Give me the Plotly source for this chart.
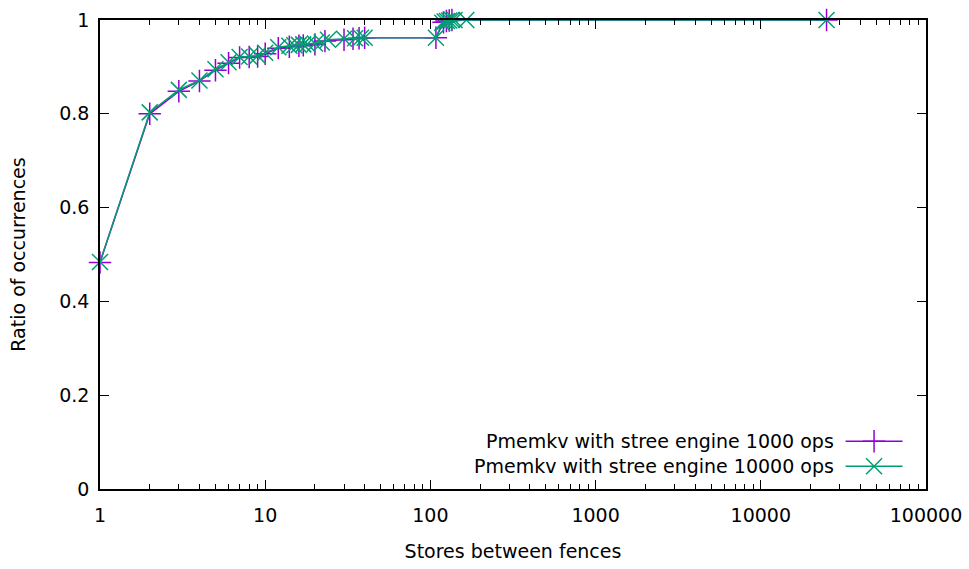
import plotly.graph_objects as go

# Series 1: Pmemkv with stree engine 1000 ops
x_1000 = [1, 2, 3, 4, 5, 6, 7, 8, 9, 10, 12, 14, 16, 17, 20, 23, 30, 34, 37, 40, 108, 120, 125, 130, 135, 25000]
y_1000 = [0.483, 0.800, 0.848, 0.870, 0.893, 0.908, 0.920, 0.921, 0.922, 0.928, 0.940, 0.943, 0.945, 0.946,
          0.948, 0.955, 0.958, 0.960, 0.961, 0.962, 0.962, 0.995, 0.998, 0.999, 1.0, 1.0]

# Series 2: Pmemkv with stree engine 10000 ops
x_10000 = [1, 2, 3, 4, 5, 6, 7, 8, 9, 10, 12, 14, 15, 16, 17, 18, 20, 22, 24, 30, 35, 38, 40, 108, 118, 122,
           126, 130, 135, 140, 165, 25000]
y_10000 = [0.484, 0.803, 0.851, 0.871, 0.895, 0.910, 0.921, 0.922, 0.924, 0.930, 0.942, 0.945, 0.946, 0.947,
           0.948, 0.949, 0.950, 0.952, 0.958, 0.960, 0.961, 0.962, 0.962, 0.962, 0.994, 0.997, 0.998, 0.999,
           1.0, 1.0, 1.0, 1.0]

names = ["Pmemkv with stree engine 1000 ops", "Pmemkv with stree engine 10000 ops"]
x_tickvals = [1, 10, 100, 1000, 10000, 100000]
x_ticktext = ["1", "10", "100", "1000", "10000", "100000"]
x_minor_vals = [m * d for d in [1, 10, 100, 1000, 10000] for m in range(2, 10)]
y_tickvals = [0, 0.2, 0.4, 0.6, 0.8, 1]

PURPLE = "#9400d3"
GREEN = "#009e73"
FONT = "DejaVu Sans"
FS = 19

fig = go.Figure()
fig.add_trace(go.Scatter(
    x=x_1000, y=y_1000, mode="lines+markers", name=" ",
    line=dict(color=PURPLE, width=1.5),
    marker=dict(symbol="cross-thin-open", size=16, line=dict(color=PURPLE, width=1.5)),
    cliponaxis=False,
))
fig.add_trace(go.Scatter(
    x=x_10000, y=y_10000, mode="lines+markers", name=" ",
    line=dict(color=GREEN, width=1.5),
    marker=dict(symbol="x-thin-open", size=16, line=dict(color=GREEN, width=1.5)),
    cliponaxis=False,
))

axis_common = dict(
    showline=True, linecolor="black", linewidth=1.5, mirror="allticks",
    ticks="inside", ticklen=9, tickwidth=1, tickcolor="black",
    showgrid=False, zeroline=False, automargin=False,
    tickfont=dict(family=FONT, size=FS, color="black"),
)

fig.update_layout(
    width=969, height=569,
    margin=dict(l=100, r=43, t=20, b=80),
    paper_bgcolor="white", plot_bgcolor="white",
    font=dict(family=FONT, size=FS, color="black"),
    xaxis=dict(
        type="log", range=[0, 5],
        tickmode="array", tickvals=x_tickvals, ticktext=x_ticktext,
        minor=dict(tickmode="array", tickvals=x_minor_vals, ticks="inside", ticklen=5,
                   tickcolor="black", tickwidth=1, showgrid=False),
        ticklabelstandoff=8,
        title=dict(text="Stores between fences", font=dict(family=FONT, size=FS), standoff=20),
        **axis_common,
    ),
    yaxis=dict(
        range=[0, 1], tickvals=y_tickvals,
        ticklabelstandoff=5,
        title=dict(text="Ratio of occurrences", font=dict(family=FONT, size=FS), standoff=29),
        **axis_common,
    ),
    legend=dict(
        x=0.991, y=0.0093, xanchor="right", yanchor="bottom",
        bgcolor="rgba(0,0,0,0)", itemwidth=57,
        font=dict(family=FONT, size=17), tracegroupgap=0,
    ),
    showlegend=True,
)

# legend labels placed to the left of the legend samples
for i, nm in enumerate(names):
    fig.add_annotation(
        text=nm, xref="paper", yref="paper",
        x=0.8915, y=0.103 - i * 0.053, xanchor="right", yanchor="middle",
        showarrow=False, font=dict(family=FONT, size=FS, color="black"),
    )

fig.write_html("out.html")
